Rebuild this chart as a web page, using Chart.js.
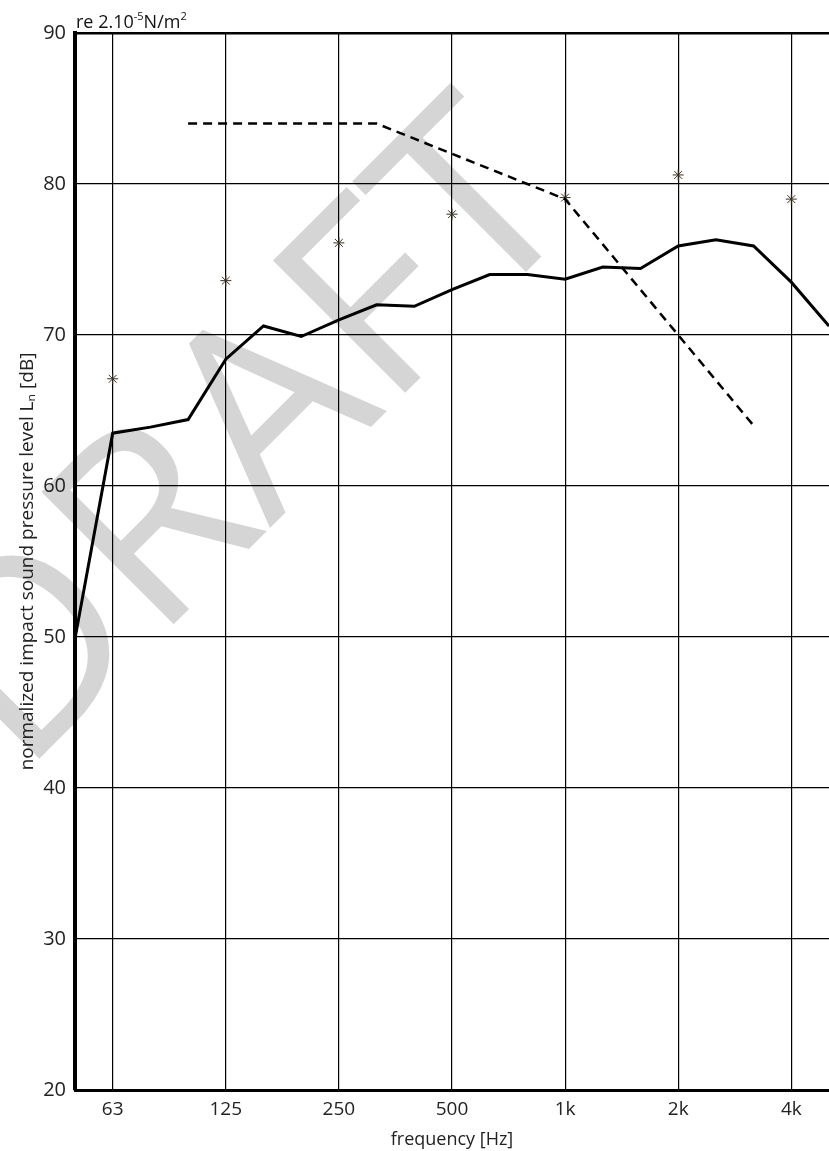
<!DOCTYPE html>
<html>
<head>
<meta charset="utf-8">
<script src="https://cdn.jsdelivr.net/npm/chart.js@4"></script>
<style>
  html, body { margin: 0; padding: 0; background: #fff; overflow: hidden; }
  canvas { display: block; }
</style>
</head>
<body>
<canvas id="chart" width="829" height="1151"></canvas>
<script>
// third-octave bands, 50 Hz .. 5 kHz
var bands = ['50','63','80','100','125','160','200','250','315','400','500','630','800','1k','1.25k','1.6k','2k','2.5k','3.15k','4k','5k'];
var octaveLabels = ['63','125','250','500','1k','2k','4k'];

// measured L'n per third-octave band
var measured = [49.9,63.5,63.9,64.4,68.4,70.6,69.9,71.0,72.0,71.9,73.0,74.0,74.0,73.7,74.5,74.4,75.9,76.3,75.9,73.5,70.6];
// shifted reference curve (100 Hz .. 3.15 kHz)
var reference = [null,null,null,84,84,84,84,84,84,83,82,81,80,79,76,73,70,67,64,null,null];
// octave band values (stars)
var octaveValues = [67.1,73.6,76.1,78.0,79.1,80.6,79.0];

var yTicks = [20,30,40,50,60,70,80,90];

var starPoints = [];
for (var i = 0; i < octaveLabels.length; i++) {
    starPoints.push({ x: octaveLabels[i], y: octaveValues[i] });
}

var watermark = {
    id: 'watermark',
    beforeDraw: function(chart) {
        var ctx = chart.ctx;
        ctx.save();
        ctx.translate(303, 495);
        ctx.rotate(-45 * Math.PI / 180);
        ctx.font = '262px "Open Sans"';
        ctx.fillStyle = '#d5d5d5';
        ctx.textAlign = 'center';
        ctx.textBaseline = 'alphabetic';
        ctx.fillText('DRAFT', 0, 0);
        ctx.restore();
    }
};

var unitLabel = {
    id: 'unitLabel',
    afterDraw: function(chart) {
        var ctx = chart.ctx;
        var x = chart.chartArea.left + 1;
        var y = 28;
        ctx.save();
        ctx.fillStyle = '#111';
        ctx.textBaseline = 'alphabetic';
        ctx.textAlign = 'left';
        var parts = [['re 2.10', 18, 0], ['-5', 11, -8], ['N/m', 18, 0], ['2', 11, -8]];
        for (var k = 0; k < parts.length; k++) {
            ctx.font = parts[k][1] + 'px "Open Sans"';
            ctx.fillText(parts[k][0], x, y + parts[k][2]);
            x += ctx.measureText(parts[k][0]).width;
        }
        ctx.restore();
    }
};

new Chart(document.getElementById('chart'), {
    type: 'line',
    data: {
        labels: bands,
        datasets: [{
            label: 'measured',
            data: measured,
            borderColor: '#000',
            borderWidth: 3,
            pointRadius: 0,
            tension: 0,
            fill: false
        }, {
            label: 'reference',
            data: reference,
            borderColor: '#000',
            borderWidth: 2.5,
            borderDash: [9, 6],
            pointRadius: 0,
            tension: 0,
            fill: false
        }, {
            label: 'octave',
            data: starPoints,
            showLine: false,
            pointStyle: 'star',
            pointRadius: 5.5,
            pointBorderWidth: 1,
            pointBorderColor: '#3b3022',
            pointBackgroundColor: '#3b3022'
        }]
    },
    options: {
        responsive: false,
        animation: false,
        events: [],
        // no extra room for point overflow: plot runs to the right edge
        layout: { autoPadding: false, padding: { top: 33, right: 0, left: 0, bottom: 0 } },
        plugins: {
            legend: { display: false },
            tooltip: { enabled: false }
        },
        scales: {
            x: {
                type: 'category',
                offset: false,
                grid: {
                    drawTicks: true,
                    tickLength: 8,
                    tickColor: 'rgba(0,0,0,0)',
                    color: function(c) {
                        var lab = bands[c.index];
                        return octaveLabels.indexOf(lab) >= 0 ? '#000' : 'rgba(0,0,0,0)';
                    },
                    lineWidth: 1.2
                },
                border: { display: true, color: '#000', width: 3 },
                ticks: {
                    autoSkip: false,
                    maxRotation: 0,
                    padding: 0,
                    color: '#222',
                    font: { family: '"Open Sans"', size: 19 },
                    callback: function(v, idx) {
                        var lab = bands[idx];
                        return octaveLabels.indexOf(lab) >= 0 ? lab : '';
                    }
                },
                title: {
                    display: true,
                    text: 'frequency [Hz]',
                    color: '#222',
                    font: { family: '"Open Sans"', size: 18 },
                    padding: { top: 0, bottom: 0 }
                },
                afterFit: function(s) {
                    s.height = 61;
                    s.paddingLeft = 0;
                    s.paddingRight = 0;
                }
            },
            y: {
                min: 20,
                max: 90,
                afterBuildTicks: function(s) {
                    s.ticks = yTicks.map(function(v) { return { value: v }; });
                },
                grid: {
                    drawTicks: false,
                    color: '#000',
                    lineWidth: function(c) { return c.tick && c.tick.value === 90 ? 2.5 : 1.2; }
                },
                border: { display: true, color: '#000', width: 4 },
                ticks: {
                    padding: 9,
                    color: '#222',
                    font: { family: '"Open Sans"', size: 20 }
                },
                title: {
                    display: true,
                    text: 'normalized impact sound pressure level L\u2099 [dB]',
                    color: '#222',
                    font: { family: '"Open Sans"', size: 19 },
                    padding: { top: 16, bottom: 0 }
                },
                afterFit: function(s) { s.width = 75; }
            }
        }
    },
    plugins: [watermark, unitLabel]
});
</script>
</body>
</html>
